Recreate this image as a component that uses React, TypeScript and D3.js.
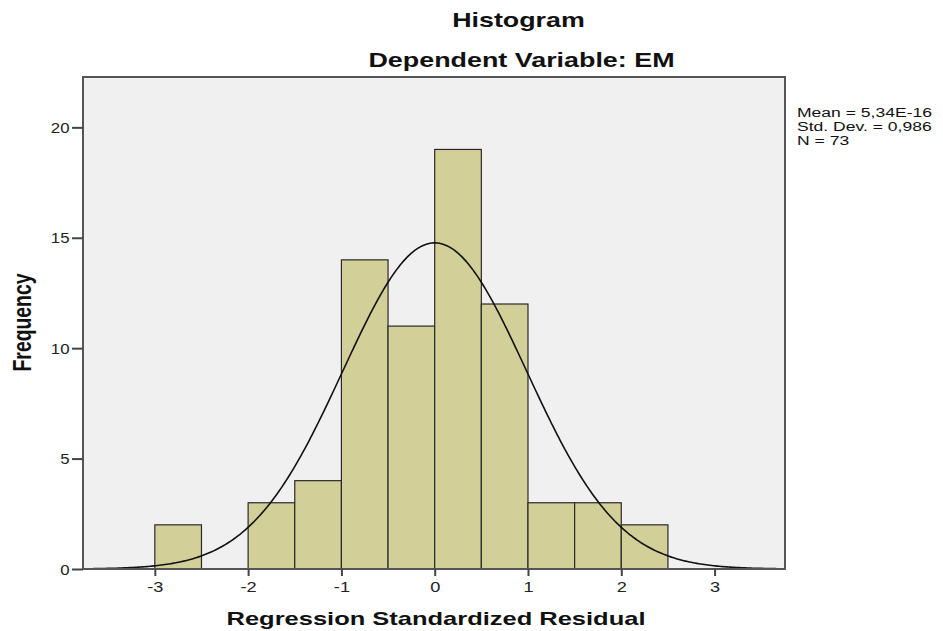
import React, { useRef, useEffect } from 'react';
import * as d3 from 'd3';

// histogram bins (width 0.5) and counts
const binStarts = [-3, -2.5, -2, -1.5, -1, -0.5, 0, 0.5, 1, 1.5, 2];
const counts = [2, 0, 3, 4, 14, 11, 19, 12, 3, 3, 2];
const binWidth = 0.5;

const xTicks = [-3, -2, -1, 0, 1, 2, 3];
const yTicks = [0, 5, 10, 15, 20];

// summary stats shown in the legend
const mean = 5.34e-16;
const stdDev = 0.986;
const n = 73;
const statLines = ['Mean = 5,34E-16', 'Std. Dev. = 0,986', 'N = 73'];

const font = 'Liberation Sans, Arial, sans-serif';

const App = () => {
    const ref = useRef<SVGSVGElement>(null);

    useEffect(() => {
        const svg = d3.select(ref.current);
        svg.selectAll('*').remove();

        const left = 83, right = 785, top = 77, bottom = 569;

        const x = d3.scaleLinear().domain([-3.77, 3.755]).range([left, right]);
        const y = d3.scaleLinear().domain([0, 22.28]).range([bottom, top]);

        // the original picture is stretched sideways, so text gets an x-scale
        const label = (tx, ty, txt, size, sx, anchor = 'middle', weight = 'bold') =>
            svg.append('text')
                .attr('transform', `translate(${tx}, ${ty}) scale(${sx}, 1)`)
                .attr('text-anchor', anchor)
                .attr('fill', '#111')
                .style('font', `${weight} ${size}px ${font}`)
                .text(txt);

        label(518.5, 26.7, 'Histogram', 20, 1.34);
        label(521.5, 66.7, 'Dependent Variable: EM', 21, 1.28);

        // plot area
        svg.append('rect')
            .attr('x', left).attr('y', top)
            .attr('width', right - left).attr('height', bottom - top)
            .attr('fill', '#f0f0f0');

        svg.selectAll('.bar')
            .data(binStarts.map((b, i) => ({ b, c: counts[i] })).filter(d => d.c > 0))
            .enter()
            .append('rect')
            .attr('x', d => x(d.b))
            .attr('y', d => y(d.c))
            .attr('width', d => x(d.b + binWidth) - x(d.b))
            .attr('height', d => y(0) - y(d.c))
            .attr('fill', '#d3cf98')
            .attr('stroke', '#2a2a2a')
            .attr('stroke-width', 1.2);

        // fitted normal curve from the legend stats
        const scale = n * binWidth / (stdDev * Math.sqrt(2 * Math.PI));
        const xs = d3.range(-3.77, 3.755, 0.02);
        const line = d3.line<number>()
            .x(v => x(v))
            .y(v => y(scale * Math.exp(-0.5 * ((v - mean) / stdDev) ** 2)));
        svg.append('path')
            .datum(xs)
            .attr('d', line)
            .attr('fill', 'none')
            .attr('stroke', '#111')
            .attr('stroke-width', 1.6);

        // frame
        svg.append('rect')
            .attr('x', left).attr('y', top)
            .attr('width', right - left).attr('height', bottom - top)
            .attr('fill', 'none')
            .attr('stroke', '#555')
            .attr('stroke-width', 2);

        // axes
        const xAxis = svg.append('g')
            .attr('transform', `translate(0, ${bottom})`)
            .call(d3.axisBottom(x).tickValues(xTicks).tickSize(7).tickSizeOuter(0).tickFormat(d => String(d)));
        const yAxis = svg.append('g')
            .attr('transform', `translate(${left}, 0)`)
            .call(d3.axisLeft(y).tickValues(yTicks).tickSize(11).tickSizeOuter(0));
        [xAxis, yAxis].forEach(g => {
            g.select('.domain').remove();
            g.selectAll('line').attr('stroke', '#444').attr('stroke-width', 2);
            g.selectAll('text')
                .attr('fill', '#222')
                .style('font', `14px ${font}`);
        });
        xAxis.selectAll('text')
            .attr('y', 0).attr('dy', 0)
            .attr('transform', 'translate(0, 23) scale(1.3, 1)');
        yAxis.selectAll('text')
            .attr('x', 0).attr('dy', '0.36em')
            .attr('transform', 'translate(-13.5, 0) scale(1.2, 1)');

        // axis labels
        label(436, 625, 'Regression Standardized Residual', 18.6, 1.37);
        svg.append('text')
            .attr('transform', 'translate(31, 322.5) rotate(-90) scale(1.02, 1.35)')
            .attr('text-anchor', 'middle')
            .attr('fill', '#111')
            .style('font', `bold 19px ${font}`)
            .text('Frequency');

        // stats
        statLines.forEach((s, i) => label(797, 116.7 + i * 14.2, s, 13.5, 1.3, 'start', 'normal'));
    }, []);

    return (
        <svg ref={ref} width={943} height={631}
            style={{ position: 'absolute', left: 0, top: 0, background: '#fff' }} />
    );
};

export default App;
